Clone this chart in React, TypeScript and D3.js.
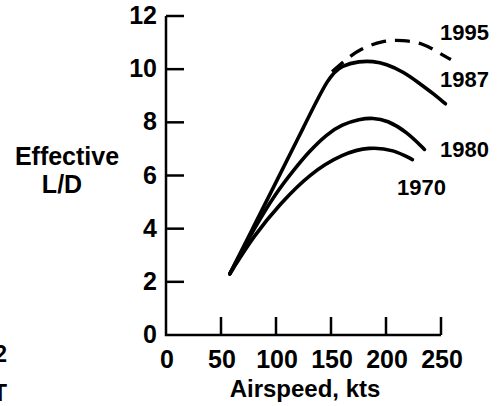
import React from 'react';
import * as d3 from 'd3';

// Effective L/D vs airspeed, by technology year
const xTicks = [0, 50, 100, 150, 200, 250];
const yTicks = [0, 2, 4, 6, 8, 10, 12];

const curve1970: [number, number][] = [[58, 2.3], [80, 3.75], [104, 4.95], [131, 6.08], [161, 6.83], [185, 7.08], [207, 6.97], [224, 6.6]];
const curve1980: [number, number][] = [[58, 2.3], [80, 4.0], [100, 5.35], [116, 6.2], [130, 6.9], [146, 7.55], [160, 7.92], [176, 8.12], [188, 8.17], [201, 8.08], [219, 7.64], [235, 6.98]];
const curve1987: [number, number][] = [[58, 2.3], [80, 4.1], [100, 5.75], [125, 7.8], [148, 9.75], [160, 10.15], [176, 10.3], [188, 10.3], [200, 10.2], [216, 9.9], [231, 9.45], [243, 9.08], [254, 8.7]];
const curve1995: [number, number][] = [[151, 9.9], [163, 10.35], [176, 10.75], [197, 11.08], [215, 11.1], [234, 10.97], [247, 10.64], [259, 10.36]];

const font = "'Liberation Sans', Arial, sans-serif";

export default function App() {
  const width = 501;
  const height = 406;

  const x = d3.scaleLinear().domain([0, 250]).range([166, 441]);
  const y = d3.scaleLinear().domain([0, 12]).range([335, 16]);

  const line = d3.line<[number, number]>()
    .x(d => x(d[0]))
    .y(d => y(d[1]))
    .curve(d3.curveBasis);

  const solid = [curve1970, curve1980, curve1987];

  return (
    <svg width={width} height={height} style={{ position: 'absolute', left: 0, top: 0, background: '#fff' }}
      fontFamily={font} fontWeight="bold">
      {/* axes */}
      <path d={`M${x(0)},${y(12)}V${y(0)}H${x(250)}`} fill="none" stroke="#000" strokeWidth={2.5} />
      {yTicks.filter(t => t > 0).map(t => (
        <line key={'yt' + t} x1={x(0)} x2={x(0) + 18} y1={y(t)} y2={y(t)} stroke="#000" strokeWidth={2.5} />
      ))}
      {xTicks.filter(t => t > 0).map(t => (
        <line key={'xt' + t} x1={x(t)} x2={x(t)} y1={y(0)} y2={y(0) - 18} stroke="#000" strokeWidth={2.5} />
      ))}
      {yTicks.map(t => (
        <text key={'yl' + t} x={x(0) - 9} y={y(t) + 8} textAnchor="end" fontSize={25}>{t}</text>
      ))}
      {xTicks.map(t => (
        <text key={'xl' + t} x={x(t) + 1} y={368} textAnchor="middle" fontSize={25}>{t}</text>
      ))}
      <text x={305} y={397} textAnchor="middle" fontSize={24}>Airspeed, kts</text>
      <text x={67} y={165} textAnchor="middle" fontSize={25}>Effective</text>
      <text x={62} y={193} textAnchor="middle" fontSize={25}>L/D</text>

      {/* curves */}
      {solid.map((c, i) => (
        <path key={i} d={line(c) ?? ''} fill="none" stroke="#000" strokeWidth={3.6} strokeLinecap="round" />
      ))}
      <path d={line(curve1995) ?? ''} fill="none" stroke="#000" strokeWidth={3.4} strokeDasharray="15 9" />

      <text x={440} y={40} fontSize={22}>1995</text>
      <text x={440} y={87} fontSize={22}>1987</text>
      <text x={440} y={157} fontSize={22}>1980</text>
      <text x={397} y={195} fontSize={22}>1970</text>

      {/* fragments of neighbouring figure, cut off at the edge as in the source */}
      <text x={7} y={362} textAnchor="end" fontSize={23}>2</text>
      <text x={7} y={401} textAnchor="end" fontSize={23}>T</text>
    </svg>
  );
}
